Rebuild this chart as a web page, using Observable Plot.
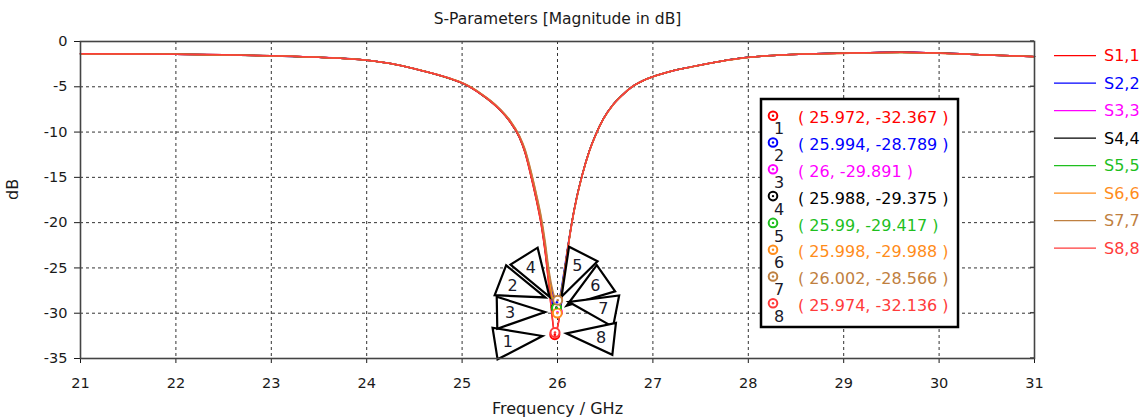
<!DOCTYPE html>
<html>
<head>
<meta charset="utf-8">
<script src="https://cdn.jsdelivr.net/npm/d3@7"></script>
<script src="https://cdn.jsdelivr.net/npm/@observablehq/plot@0.6"></script>
<style>
  html, body { margin: 0; padding: 0; background: #fff; }
</style>
</head>
<body>
<div id="chart"></div>
<script>
// ---------------- data ----------------
const chartTitle = "S-Parameters [Magnitude in dB]";
const xLabel = "Frequency / GHz";
const yLabel = "dB";
const xTicks = [21, 22, 23, 24, 25, 26, 27, 28, 29, 30, 31];
const yTicks = [0, -5, -10, -15, -20, -25, -30, -35];
const seriesNames = ["S1,1", "S2,2", "S3,3", "S4,4", "S5,5", "S6,6", "S7,7", "S8,8"];

const freq = [21, 21.5, 22, 22.5, 23, 23.5, 24, 24.25, 24.5, 24.75, 24.9, 25.0, 25.1, 25.2, 25.3, 25.4, 25.5,
  25.6, 25.66, 25.72, 25.78, 25.83, 25.87, 25.91, 25.94, 25.97, 26.0, 26.03, 26.06, 26.1, 26.15, 26.2,
  26.26, 26.33, 26.4, 26.48, 26.58, 26.68, 26.78, 26.9, 27.0, 27.2, 27.4, 27.7, 28.0, 28.4, 28.8, 29.2, 29.6, 30, 30.5, 31];

const s11 = [-1.36, -1.38, -1.41, -1.47, -1.58, -1.74, -2.06, -2.42, -3.0, -3.7, -4.2, -4.6, -5.15, -5.85, -6.65, -7.6, -8.85,
  -10.6, -12.3, -14.8, -17.6, -20.3, -23.2, -27.0, -30.0, -32.35, -31.6, -29.6, -26.6, -23.4, -20.0, -17.3,
  -14.7, -12.2, -10.3, -8.55, -7.0, -5.9, -5.0, -4.3, -3.88, -3.25, -2.8, -2.2, -1.75, -1.45, -1.33, -1.25, -1.2, -1.28, -1.48, -1.67];
const s22 = [-1.37, -1.39, -1.41, -1.48, -1.59, -1.75, -2.07, -2.43, -3.01, -3.7, -4.19, -4.58, -5.12, -5.82, -6.6, -7.55, -8.78,
  -10.5, -12.1, -14.5, -17.2, -19.8, -22.5, -25.6, -27.4, -28.5, -28.75, -27.9, -26.0, -23.2, -20.0, -17.3,
  -14.7, -12.2, -10.3, -8.55, -7.0, -5.9, -5.0, -4.3, -3.88, -3.25, -2.8, -2.2, -1.75, -1.45, -1.33, -1.25, -1.2, -1.28, -1.48, -1.67];
const s33 = [-1.36, -1.39, -1.42, -1.47, -1.59, -1.74, -2.07, -2.42, -3.0, -3.69, -4.18, -4.57, -5.11, -5.81, -6.59, -7.54, -8.77,
  -10.5, -12.1, -14.5, -17.2, -19.9, -22.7, -26.0, -28.0, -29.4, -29.88, -29.1, -26.7, -23.5, -20.1, -17.35,
  -14.72, -12.22, -10.32, -8.57, -7.02, -5.92, -5.01, -4.31, -3.89, -3.26, -2.8, -2.2, -1.75, -1.45, -1.33, -1.25, -1.2, -1.28, -1.48, -1.67];
const s44 = [-1.37, -1.38, -1.41, -1.47, -1.58, -1.75, -2.06, -2.42, -3.0, -3.7, -4.19, -4.59, -5.13, -5.83, -6.62, -7.57, -8.8,
  -10.55, -12.2, -14.6, -17.4, -20.0, -22.9, -26.3, -28.3, -29.2, -29.3, -28.4, -26.3, -23.4, -20.0, -17.3,
  -14.7, -12.2, -10.3, -8.55, -7.0, -5.9, -5.0, -4.3, -3.88, -3.25, -2.8, -2.2, -1.75, -1.45, -1.33, -1.25, -1.2, -1.28, -1.48, -1.67];
const s55 = [-1.36, -1.38, -1.42, -1.48, -1.58, -1.74, -2.06, -2.43, -3.01, -3.71, -4.2, -4.59, -5.13, -5.83, -6.62, -7.57, -8.8,
  -10.55, -12.2, -14.6, -17.4, -20.0, -22.8, -26.2, -28.2, -29.2, -29.38, -28.5, -26.4, -23.4, -20.0, -17.3,
  -14.7, -12.2, -10.3, -8.55, -7.0, -5.9, -5.0, -4.3, -3.88, -3.25, -2.8, -2.2, -1.75, -1.45, -1.33, -1.25, -1.21, -1.28, -1.48, -1.67];
const s66 = [-1.37, -1.39, -1.41, -1.48, -1.59, -1.75, -2.07, -2.43, -3.0, -3.68, -4.16, -4.55, -5.08, -5.78, -6.55, -7.5, -8.7,
  -10.4, -12.0, -14.3, -17.0, -19.6, -22.4, -25.9, -28.0, -29.5, -29.98, -29.2, -26.8, -23.6, -20.1, -17.4,
  -14.75, -12.25, -10.35, -8.58, -7.03, -5.92, -5.02, -4.31, -3.9, -3.26, -2.81, -2.21, -1.76, -1.46, -1.34, -1.26, -1.21, -1.29, -1.49, -1.68];
const s77 = [-1.37, -1.39, -1.42, -1.48, -1.59, -1.75, -2.07, -2.43, -3.0, -3.67, -4.15, -4.54, -5.06, -5.76, -6.53, -7.47, -8.67,
  -10.4, -11.9, -14.2, -16.9, -19.4, -22.0, -25.2, -27.0, -28.2, -28.56, -28.0, -26.3, -23.4, -20.1, -17.4,
  -14.75, -12.25, -10.35, -8.58, -7.03, -5.92, -5.02, -4.31, -3.9, -3.26, -2.81, -2.21, -1.76, -1.46, -1.34, -1.26, -1.21, -1.29, -1.49, -1.68];
const s88 = [-1.36, -1.38, -1.41, -1.47, -1.58, -1.74, -2.06, -2.42, -3.0, -3.7, -4.2, -4.6, -5.14, -5.84, -6.64, -7.59, -8.83,
  -10.58, -12.28, -14.77, -17.55, -20.25, -23.1, -26.9, -29.9, -32.1, -31.5, -29.7, -26.7, -23.4, -20.0, -17.3,
  -14.7, -12.2, -10.3, -8.55, -7.0, -5.9, -5.0, -4.3, -3.88, -3.25, -2.8, -2.2, -1.75, -1.45, -1.33, -1.25, -1.2, -1.28, -1.48, -1.67];

const markerFreq = [25.972, 25.994, 26, 25.988, 25.99, 25.998, 26.002, 25.974];
const markerDb = [-32.367, -28.789, -29.891, -29.375, -29.417, -29.988, -28.566, -32.136];

// ---------------- styles / layout ----------------
const palette = ["#ff0000", "#0000ff", "#ff00ff", "#000000", "#1fbf1f", "#ff8c1a", "#bf8040", "#ff3b3b"];
const calloutAngles = [171, -159, 179, -122, -63, -35, 11, 6.5];
const FONT = "DejaVu Sans";

const seriesValues = [s11, s22, s33, s44, s55, s66, s77, s88];
const lineRows = seriesNames.flatMap((name, k) =>
  freq.map((f, j) => ({ f, db: seriesValues[k][j], name, color: palette[k] })));
const markerRows = markerFreq.map((f, i) => ({ f, db: markerDb[i], i, color: palette[i] }));

// callout triangles with numbers
const callouts = (index, scales, values, dims) => {
  const g = d3.create("svg:g").attr("font-family", FONT);
  markerRows.forEach((m, i) => {
    const mx = scales.x(m.f), my = scales.y(m.db);
    const a = calloutAngles[i] * Math.PI / 180;
    const ux = Math.cos(a), uy = Math.sin(a), nx = -uy, ny = ux;
    const tip = [mx + 12 * ux, my + 12 * uy];
    const bx = mx + 60 * ux, by = my + 60 * uy;
    const pts = [tip, [bx + 16 * nx, by + 16 * ny], [bx - 16 * nx, by - 16 * ny]];
    g.append("polygon")
      .attr("points", pts.map(p => p.join(",")).join(" "))
      .attr("fill", "white").attr("stroke", "black")
      .attr("stroke-width", 2.2).attr("stroke-linejoin", "miter");
    g.append("text")
      .attr("x", mx + 47 * ux).attr("y", my + 47 * uy)
      .attr("text-anchor", "middle").attr("dy", "0.36em")
      .attr("font-size", 16).attr("fill", "#1a1a2a")
      .text(i + 1);
  });
  return g.node();
};

// marker readout box
const readout = (index, scales, values, dims) => {
  const g = d3.create("svg:g").attr("font-family", FONT);
  const left = dims.width - dims.marginRight - 273;
  const top = dims.marginTop + 58;
  g.append("rect").attr("x", left).attr("y", top).attr("width", 197).attr("height", 228)
    .attr("fill", "white").attr("stroke", "black").attr("stroke-width", 2.5);
  markerRows.forEach((m, i) => {
    const cy = top + 18.7 + i * 26.8;
    g.append("circle").attr("cx", left + 12).attr("cy", cy - 2).attr("r", 4.3)
      .attr("fill", "white").attr("stroke", m.color).attr("stroke-width", 2);
    g.append("circle").attr("cx", left + 12).attr("cy", cy - 2).attr("r", 1.2).attr("fill", m.color);
    g.append("text").attr("x", left + 18).attr("y", cy + 11).attr("dy", "0.36em")
      .attr("text-anchor", "middle").attr("font-size", 16).attr("fill", "#1a1a2a").text(i + 1);
    g.append("text").attr("x", left + 37).attr("y", cy).attr("dy", "0.36em")
      .attr("text-anchor", "start").attr("font-size", 16).attr("fill", m.color)
      .text(`( ${m.f}, ${m.db} )`);
  });
  return g.node();
};

// legend on the right + inward ticks on right frame
const legend = (index, scales, values, dims) => {
  const g = d3.create("svg:g").attr("font-family", FONT);
  const x0 = dims.width - dims.marginRight;
  yTicks.forEach(t => {
    const y = scales.y(t);
    g.append("line").attr("x1", x0 - 4).attr("x2", x0).attr("y1", y).attr("y2", y)
      .attr("stroke", "#444").attr("stroke-width", 1.5);
  });
  seriesNames.forEach((name, i) => {
    const y = dims.marginTop + 14.7 + i * 27.5;
    g.append("line").attr("x1", x0 + 20).attr("x2", x0 + 62).attr("y1", y).attr("y2", y)
      .attr("stroke", palette[i]).attr("stroke-width", 1.3);
    g.append("text").attr("x", x0 + 70).attr("y", y).attr("dy", "0.36em")
      .attr("text-anchor", "start").attr("font-size", 16).attr("fill", palette[i]).text(name);
  });
  return g.node();
};

const chart = Plot.plot({
  width: 1142,
  height: 418,
  marginTop: 41,
  marginRight: 108,
  marginBottom: 60,
  marginLeft: 80,
  style: { fontFamily: FONT, fontSize: "14.5px", color: "#1a1a1a", background: "white", overflow: "visible" },
  x: { domain: [21, 31], ticks: xTicks, tickSize: 5, tickPadding: 14, label: null, tickFormat: d => String(d) },
  y: { domain: [-35, 0], ticks: yTicks, tickSize: 6, tickPadding: 7, label: null, tickFormat: d => String(d) },
  color: { type: "identity" },
  marks: [
    Plot.ruleX(xTicks.slice(1, -1), { stroke: "#333", strokeDasharray: "3,3", strokeWidth: 1 }),
    Plot.ruleY(yTicks.slice(1, -1), { stroke: "#333", strokeDasharray: "3,3", strokeWidth: 1 }),
    Plot.line(lineRows, { x: "f", y: "db", z: "name", stroke: "color", strokeWidth: 1.5, curve: "monotone-x" }),
    callouts,
    Plot.dot(markerRows, { x: "f", y: "db", r: 4.5, stroke: "color", strokeWidth: 2, fill: "white" }),
    Plot.dot(markerRows, { x: "f", y: "db", r: 1.3, fill: "color" }),
    readout,
    Plot.frame({ stroke: "#444", strokeWidth: 1.6 }),
    legend,
    Plot.text([chartTitle], { frameAnchor: "top", lineAnchor: "middle", dy: -22, fontSize: 15.5, fill: "#1a1a1a" }),
    Plot.text([xLabel], { frameAnchor: "bottom", lineAnchor: "middle", dy: 50, fontSize: 16, fill: "#1a1a1a" }),
    Plot.text([yLabel], { frameAnchor: "left", lineAnchor: "middle", dx: -68, rotate: -90, fontSize: 16, fill: "#1a1a1a" })
  ]
});
document.getElementById("chart").appendChild(chart);
</script>
</body>
</html>
